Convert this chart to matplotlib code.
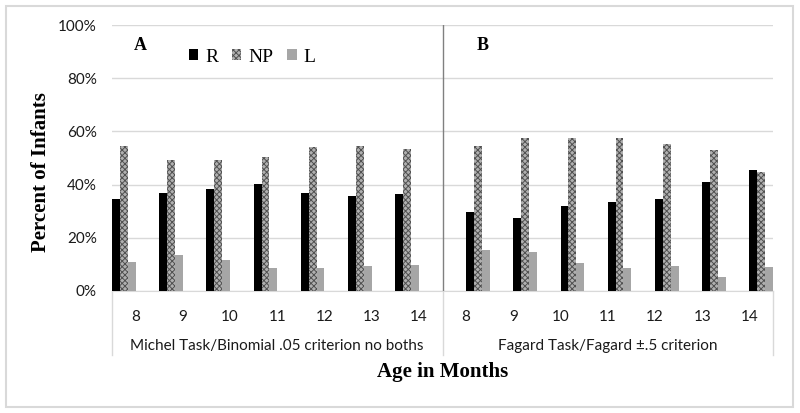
import matplotlib
matplotlib.use("Agg")
import matplotlib.pyplot as plt
import numpy as np
from matplotlib.patches import FancyBboxPatch
from matplotlib.lines import Line2D

ages = ["8", "9", "10", "11", "12", "13", "14"]
series_names = ["R", "NP", "L"]
group_labels = ["Michel Task/Binomial .05 criterion no boths", "Fagard Task/Fagard \u00b1.5 criterion"]
panel_letters = ["A", "B"]

A_R = [34.5, 36.7, 38.3, 40.3, 36.7, 35.7, 36.3]
A_NP = [54.5, 49.4, 49.4, 50.5, 54.1, 54.5, 53.4]
A_L = [10.9, 13.5, 11.8, 8.8, 8.8, 9.5, 9.8]
B_R = [29.7, 27.3, 31.8, 33.5, 34.7, 41.0, 45.4]
B_NP = [54.4, 57.4, 57.4, 57.4, 55.3, 53.0, 44.6]
B_L = [15.4, 14.8, 10.5, 8.8, 9.4, 5.4, 9.1]

plt.rcParams['hatch.linewidth'] = 0.7
W, H = 800, 413
fig = plt.figure(figsize=(8, 4.13), dpi=100)
ax = fig.add_axes([112 / W, 1 - 291 / H, (773 - 112) / W, (291 - 25) / H])

n = len(ages)
x = np.arange(2 * n)
bw = 1 / 6
styles = [dict(color="#000000"),
          dict(color="#b0b0b0", edgecolor="#505050", hatch="xxxxxx", linewidth=0),
          dict(color="#a6a6a6")]

handles = []
for k, (a_vals, b_vals) in enumerate([(A_R, B_R), (A_NP, B_NP), (A_L, B_L)]):
    xa = x[:n] - 0.5 + bw * (k + 0.5)
    xb = x[n:] - 0.5 + bw * (k + 3.5)
    st = dict(styles[k])
    h = ax.bar(xa, a_vals, width=bw, label=series_names[k], zorder=3, **st)
    ax.bar(xb, b_vals, width=bw, zorder=3, **st)
    handles.append(h)

ax.set_xlim(-0.5, 2 * n - 0.5)
ax.set_ylim(0, 100)
ax.set_yticks([0, 20, 40, 60, 80, 100])
ax.set_yticklabels([f"{v}%" for v in [0, 20, 40, 60, 80, 100]], fontfamily="Lato", fontsize=11, color="#1a1a1a")
ax.set_xticks(x)
ax.set_xticklabels(ages + ages, fontfamily="Lato", fontsize=11, color="#1a1a1a")
ax.tick_params(axis="both", length=0)
ax.tick_params(axis="x", pad=14)
ax.tick_params(axis="y", pad=11)
ax.grid(axis="y", color="#d9d9d9", linewidth=1, zorder=0)
for s in ["left", "right", "top"]:
    ax.spines[s].set_visible(False)
ax.spines["bottom"].set_color("#d9d9d9")

# divider between panels
ax.axvline(n - 0.5, color="#808080", linewidth=1, zorder=4)
trans = ax.get_xaxis_transform()
ybot = -(355 - 291) / (291 - 25)
for xv in [-0.5, n - 0.5, 2 * n - 0.5]:
    ax.add_line(Line2D([xv, xv], [0, ybot], transform=trans, color="#d9d9d9", linewidth=1, clip_on=False))

ygrp = -(346 - 291) / (291 - 25)
ax.text((n - 1) / 2, ygrp, group_labels[0], transform=trans, ha="center", va="center",
        fontfamily="Lato", fontsize=11, color="#1a1a1a")
ax.text(n + (n - 1) / 2, ygrp, group_labels[1], transform=trans, ha="center", va="center",
        fontfamily="Lato", fontsize=11, color="#1a1a1a")

yl = (291 - 45) / (291 - 25)
ax.text((140 - 112) / (773 - 112), yl, panel_letters[0], transform=ax.transAxes, ha="center", va="center",
        fontfamily="Liberation Serif", fontweight="bold", fontsize=13)
ax.text((483 - 112) / (773 - 112), yl, panel_letters[1], transform=ax.transAxes, ha="center", va="center",
        fontfamily="Liberation Serif", fontweight="bold", fontsize=13)

leg = ax.legend(handles=handles, labels=series_names, ncol=3, loc="center",
                bbox_to_anchor=((252 - 112) / (773 - 112), (291 - 57) / (291 - 25)),
                frameon=False, prop={"family": "Liberation Serif", "size": 14},
                handlelength=0.5, handleheight=0.5, handletextpad=0.35, columnspacing=0.7)

fig.text(41 / W, 1 - 172 / H, "Percent of Infants", rotation=90, ha="center", va="center",
         fontfamily="Liberation Serif", fontweight="bold", fontsize=15)
fig.text(443 / W, 1 - 372 / H, "Age in Months", ha="center", va="center",
         fontfamily="Liberation Serif", fontweight="bold", fontsize=15)

border = FancyBboxPatch((6 / W, 6 / H), (793 - 6) / W, (407 - 6) / H, boxstyle="square,pad=0",
                        transform=fig.transFigure, fill=False, edgecolor="#d9d9d9", linewidth=1.5)
fig.patches.append(border)

fig.savefig("out.png", dpi=100)
